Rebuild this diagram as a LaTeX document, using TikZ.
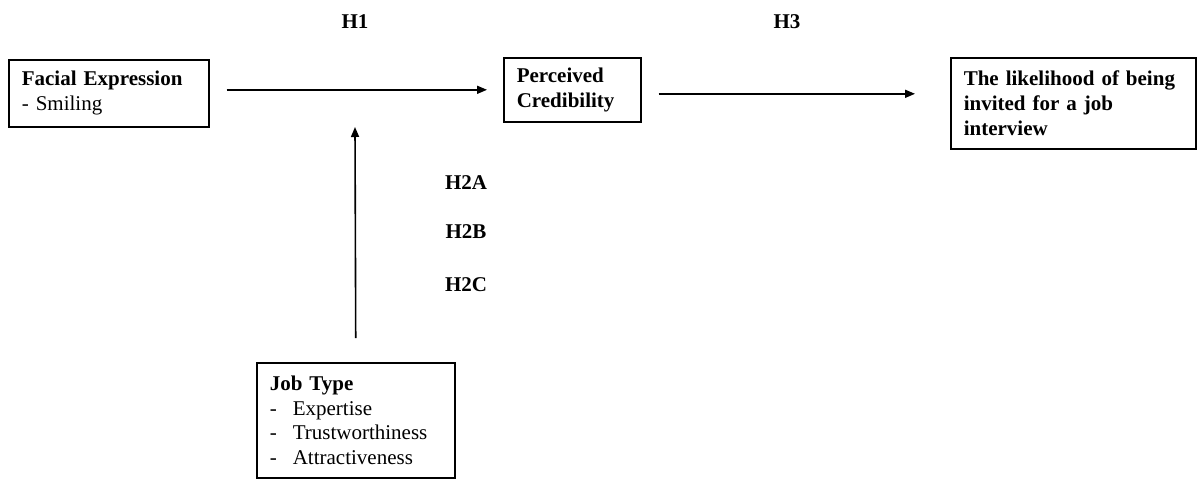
\documentclass[tikz,border=0pt]{standalone}
\usepackage{fontspec}
\setmainfont{Liberation Serif}
\usetikzlibrary{arrows.meta}
\begin{document}
\begin{tikzpicture}[x=1pt,y=-1pt,
  box/.style={draw,line width=1.6pt,anchor=north west,align=left,inner xsep=13pt,inner ysep=0pt,
    font=\fontsize{21}{25}\selectfont},
  lab/.style={font=\fontsize{21}{25}\selectfont\bfseries},
  arr/.style={line width=1.6pt,-{Triangle[length=10pt,width=8pt]}}]
\useasboundingbox (0,0) rectangle (1197,480);
\node[box,minimum width=200pt,minimum height=67pt,text width=174pt] (fe) at (8,59)
  {\textbf{Facial Expression}\\- Smiling};
\node[box,minimum width=137pt,minimum height=64pt,text width=111pt] (pc) at (503,57)
  {\textbf{Perceived}\\\textbf{Credibility}};
\node[box,minimum width=245pt,minimum height=91pt,text width=219pt] (lk) at (950,57)
  {\textbf{The likelihood of being}\\\textbf{invited for a job}\\\textbf{interview}};
\node[box,minimum width=198pt,minimum height=115pt,text width=172pt,font=\fontsize{21}{24.5}\selectfont] (jt) at (256,362)
  {\textbf{Job Type}\\\makebox[23pt][l]{-}Expertise\\\makebox[23pt][l]{-}Trustworthiness\\\makebox[23pt][l]{-}Attractiveness};
\coordinate (m) at (355,127);
\draw[arr,shorten <=17pt,shorten >=16pt] (fe.east |- pc.west) -- (pc.west);
\draw[arr,shorten <=17pt,shorten >=35pt] ([yshift=-4pt]pc.east) -- ([yshift=-4pt]pc.east -| lk.west);
\draw[arr,shorten <=24pt] (jt.north) -- (m);
\node[lab] (h1) at (355,22) {H1};
\node[lab] (h3) at (787,22) {H3};
\node[lab] (h2a) at (466,183) {H2A};
\node[lab] (h2b) at (466,232) {H2B};
\node[lab] (h2c) at (466,285) {H2C};
\end{tikzpicture}
\end{document}
